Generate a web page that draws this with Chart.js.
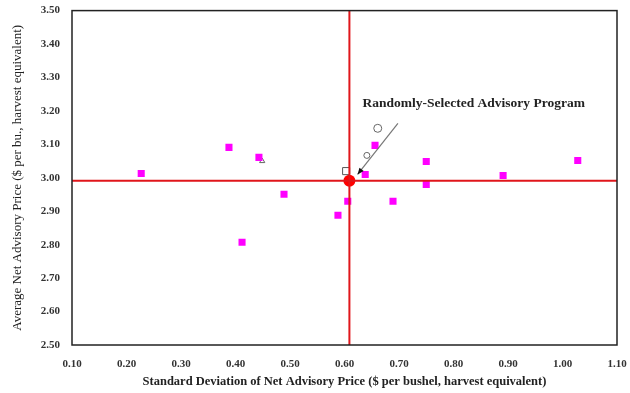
<!DOCTYPE html>
<html>
<head>
<meta charset="utf-8">
<script src="https://cdn.jsdelivr.net/npm/chart.js@4/dist/chart.umd.min.js"></script>
<style>
  html, body { margin: 0; padding: 0; background: #fff; }
  #wrap { width: 630px; height: 393px; }
</style>
</head>
<body>
<div id="wrap"><canvas id="chart"></canvas></div>
<script>
// advisory programs: std dev (x) and average net price (y)
var progX = [0.227, 0.388, 0.443, 0.412, 0.489, 0.588, 0.606, 0.638, 0.656, 0.750, 0.750, 0.689, 0.891, 1.028];
var progY = [3.013, 3.091, 3.061, 2.807, 2.951, 2.888, 2.930, 3.010, 3.097, 3.049, 2.980, 2.930, 3.007, 3.052];

// randomly-selected advisory program (mean)
var randX = [0.609];
var randY = [2.991];

// other markers
var squareX = [0.603], squareY = [3.020];
var triX = [0.449], triY = [3.050];
var circX = [0.661, 0.641], circY = [3.148, 3.067];

// reference lines through the mean
var vLineX = [0.609, 0.609], vLineY = [2.50, 3.50];
var hLineX = [0.10, 1.10], hLineY = [2.991, 2.991];

// arrow from label to the mean
var arrowX = [0.698, 0.624], arrowY = [3.163, 3.010];
var labelText = 'Randomly-Selected Advisory Program';
var labelAt = [0.633, 3.222];

var xTitle = 'Standard Deviation of Net Advisory Price ($ per bushel, harvest equivalent)';
var yTitle = 'Average Net Advisory Price ($ per bu., harvest equivalent)';

function pts(xs, ys) {
  return xs.map(function(x, i) { return { x: x, y: ys[i] }; });
}

var serif = '"Liberation Serif", "Times New Roman", serif';

var extras = {
  id: 'extras',
  afterDatasetsDraw: function(chart) {
    var ctx = chart.ctx, a = chart.chartArea;
    var xs = chart.scales.x, ys = chart.scales.y;
    ctx.save();
    // plot frame
    ctx.strokeStyle = '#222';
    ctx.lineWidth = 1.5;
    ctx.strokeRect(a.left, a.top, a.right - a.left, a.bottom - a.top);
    // arrow head
    var x1 = xs.getPixelForValue(arrowX[0]), y1 = ys.getPixelForValue(arrowY[0]);
    var x2 = xs.getPixelForValue(arrowX[1]), y2 = ys.getPixelForValue(arrowY[1]);
    var ang = Math.atan2(y2 - y1, x2 - x1);
    ctx.fillStyle = '#111';
    ctx.beginPath();
    ctx.moveTo(x2, y2);
    ctx.lineTo(x2 - 7 * Math.cos(ang - 0.4), y2 - 7 * Math.sin(ang - 0.4));
    ctx.lineTo(x2 - 7 * Math.cos(ang + 0.4), y2 - 7 * Math.sin(ang + 0.4));
    ctx.closePath();
    ctx.fill();
    // label
    ctx.font = 'bold 13.5px ' + serif;
    ctx.fillStyle = '#222';
    ctx.textBaseline = 'middle';
    ctx.fillText(labelText, xs.getPixelForValue(labelAt[0]), ys.getPixelForValue(labelAt[1]));
    ctx.restore();
  }
};

new Chart(document.getElementById('chart'), {
  type: 'scatter',
  data: {
    datasets: [
      { data: pts(vLineX, vLineY), showLine: true, borderColor: '#e0161b', borderWidth: 2, pointRadius: 0 },
      { data: pts(hLineX, hLineY), showLine: true, borderColor: '#e0161b', borderWidth: 2, pointRadius: 0 },
      { data: pts(arrowX, arrowY), showLine: true, borderColor: '#777', borderWidth: 1.2, pointRadius: 0 },
      { data: pts(progX, progY), pointStyle: 'rect', pointRadius: 5, backgroundColor: '#ff00ff', borderWidth: 0 },
      { data: pts(squareX, squareY), pointStyle: 'rect', pointRadius: 5, backgroundColor: 'rgba(255,255,255,0)', borderColor: '#555', borderWidth: 1 },
      { data: pts(triX, triY), pointStyle: 'triangle', pointRadius: 3, backgroundColor: 'rgba(255,255,255,0)', borderColor: '#666', borderWidth: 1 },
      { data: pts(circX, circY), pointStyle: 'circle', pointRadius: [4, 3], backgroundColor: 'rgba(255,255,255,0)', borderColor: '#666', borderWidth: 1 },
      { data: pts(randX, randY), pointStyle: 'circle', pointRadius: 6, backgroundColor: '#ff0000', borderColor: '#ff0000', borderWidth: 0 }
    ]
  },
  options: {
    responsive: true,
    maintainAspectRatio: false,
    animation: false,
    layout: { padding: { left: 0, right: 13, top: 5, bottom: 0 } },
    plugins: { legend: { display: false }, tooltip: { enabled: false } },
    scales: {
      x: {
        type: 'linear', min: 0.1, max: 1.1,
        grid: { display: false },
        border: { display: false },
        ticks: {
          stepSize: 0.1, padding: 5, color: '#333',
          font: { family: serif, size: 11, weight: 'bold' },
          callback: function(v) { return v.toFixed(2); }
        },
        title: { display: true, text: xTitle, color: '#222', padding: { top: 3 },
          font: { family: serif, size: 12.5, weight: 'bold' } },
        afterFit: function(s) { s.height = 48; s.paddingRight = 0; }
      },
      y: {
        type: 'linear', min: 2.5, max: 3.5,
        grid: { display: false },
        border: { display: false },
        ticks: {
          stepSize: 0.1, padding: 4, color: '#333',
          font: { family: serif, size: 11, weight: 'bold' },
          callback: function(v) { return v.toFixed(2); }
        },
        title: { display: true, text: yTitle, color: '#222', padding: { top: 10, bottom: 0 },
          font: { family: serif, size: 13 } },
        afterFit: function(s) { s.width = 72; }
      }
    }
  },
  plugins: [extras]
});
</script>
</body>
</html>
